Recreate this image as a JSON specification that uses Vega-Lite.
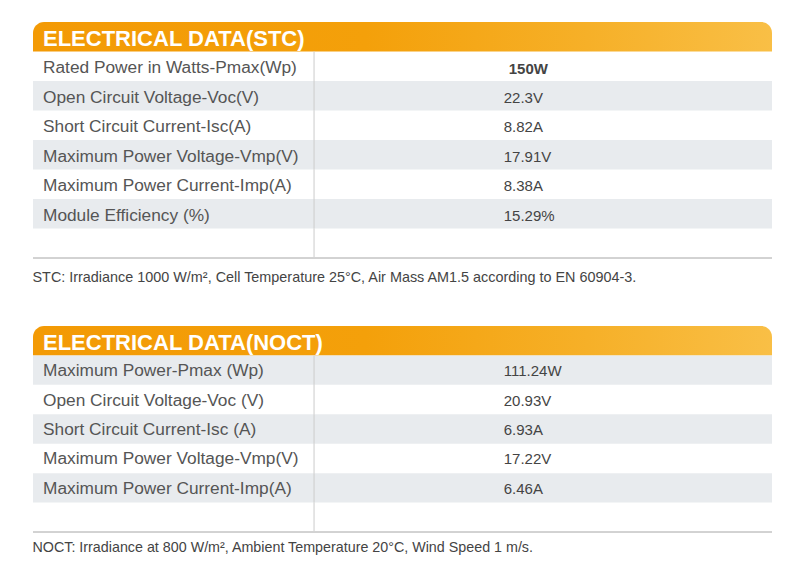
{
  "$schema": "https://vega.github.io/schema/vega-lite/v6.json",
  "background": "white",
  "padding": {"left": 32, "top": 22, "right": 29, "bottom": 0},
  "config": {"view": {"stroke": null}, "font": "Liberation Sans"},
  "datasets": {
    "stc": [
      {"row": 0, "label": "ELECTRICAL DATA(STC)", "value": ""},
      {"row": 1, "label": "Rated Power in Watts-Pmax(Wp)", "value": "150W"},
      {"row": 2, "label": "Open Circuit Voltage-Voc(V)", "value": "22.3V"},
      {"row": 3, "label": "Short Circuit Current-Isc(A)", "value": "8.82A"},
      {"row": 4, "label": "Maximum Power Voltage-Vmp(V)", "value": "17.91V"},
      {"row": 5, "label": "Maximum Power Current-Imp(A)", "value": "8.38A"},
      {"row": 6, "label": "Module Efficiency (%)", "value": "15.29%"},
      {"row": 7, "label": "", "value": ""}
    ],
    "noct": [
      {"row": 0, "label": "ELECTRICAL DATA(NOCT)", "value": ""},
      {"row": 1, "label": "Maximum Power-Pmax (Wp)", "value": "111.24W"},
      {"row": 2, "label": "Open Circuit Voltage-Voc (V)", "value": "20.93V"},
      {"row": 3, "label": "Short Circuit Current-Isc (A)", "value": "6.93A"},
      {"row": 4, "label": "Maximum Power Voltage-Vmp(V)", "value": "17.22V"},
      {"row": 5, "label": "Maximum Power Current-Imp(A)", "value": "6.46A"},
      {"row": 6, "label": "", "value": ""}
    ]
  },
  "spacing": 42,
  "vconcat": [
    {
      "width": 739,
      "height": 236,
      "data": {"name": "stc"},
      "title": {"text": "STC: Irradiance 1000 W/m², Cell Temperature 25°C, Air Mass AM1.5 according to EN 60904-3.", "orient": "bottom", "anchor": "start", "fontSize": 14.4, "font": "Liberation Sans", "fontWeight": "normal", "color": "#444444", "offset": 12},
      "encoding": {
        "y": {"field": "row", "type": "ordinal", "axis": null, "scale": {"domain": [0, 1, 2, 3, 4, 5, 6, 7], "paddingInner": 0, "paddingOuter": 0}}
      },
      "layer": [
        {
          "transform": [{"filter": "datum.row == 0"}],
          "mark": {"type": "rect", "cornerRadiusTopLeft": 11, "cornerRadiusTopRight": 11, "color": {"gradient": "linear", "stops": [{"offset": 0, "color": "#F39A05"}, {"offset": 0.45, "color": "#F4A00A"}, {"offset": 0.75, "color": "#F6B028"}, {"offset": 1, "color": "#F9BF46"}]}},
          "encoding": {"x": {"datum": 0, "type": "quantitative", "scale": {"domain": [0, 1]}, "axis": null}, "x2": {"datum": 1}}
        },
        {
          "transform": [{"filter": "datum.row > 0 && datum.row % 2 == 0"}],
          "mark": {"type": "rect", "color": "#E8EBEE"},
          "encoding": {"x": {"datum": 0, "type": "quantitative"}, "x2": {"datum": 1}}
        },
        {
          "transform": [{"filter": "datum.row > 0"}],
          "mark": {"type": "rect", "color": "#CDCDCD"},
          "encoding": {"x": {"datum": 0.3796, "type": "quantitative"}, "x2": {"datum": 0.381}}
        },
        {
          "mark": {"type": "rule", "color": "#D2D2D2", "strokeWidth": 1},
          "encoding": {"x": {"datum": 0, "type": "quantitative"}, "x2": {"datum": 1}, "y": {"datum": 7, "type": "ordinal", "bandPosition": 1}}
        },
        {
          "transform": [{"filter": "datum.row == 0"}],
          "mark": {"type": "text", "align": "left", "baseline": "middle", "dx": 10, "dy": 2, "fontSize": 22, "fontWeight": "bold", "color": "white", "font": "Liberation Sans"},
          "encoding": {"x": {"datum": 0, "type": "quantitative"}, "text": {"field": "label"}}
        },
        {
          "transform": [{"filter": "datum.row > 0"}],
          "mark": {"type": "text", "align": "left", "baseline": "middle", "dx": 10, "dy": 2, "fontSize": 17.3, "color": "#555555", "font": "Liberation Sans"},
          "encoding": {"x": {"datum": 0, "type": "quantitative"}, "text": {"field": "label"}}
        },
        {
          "transform": [{"filter": "datum.row > 1"}],
          "mark": {"type": "text", "align": "left", "baseline": "middle", "dy": 2, "fontSize": 15, "color": "#444444", "font": "Liberation Sans"},
          "encoding": {"x": {"datum": 0.637, "type": "quantitative"}, "text": {"field": "value"}}
        },
        {
          "transform": [{"filter": "datum.row == 1"}],
          "mark": {"type": "text", "align": "left", "baseline": "middle", "dy": 3, "dx": 5, "fontSize": 15, "fontWeight": "bold", "color": "#444444", "font": "Liberation Sans"},
          "encoding": {"x": {"datum": 0.637, "type": "quantitative"}, "text": {"field": "value"}}
        }
      ]
    },
    {
      "width": 739,
      "height": 206,
      "data": {"name": "noct"},
      "title": {"text": "NOCT: Irradiance at 800 W/m², Ambient Temperature 20°C, Wind Speed 1 m/s.", "orient": "bottom", "anchor": "start", "fontSize": 14.3, "font": "Liberation Sans", "fontWeight": "normal", "color": "#444444", "offset": 8},
      "encoding": {
        "y": {"field": "row", "type": "ordinal", "axis": null, "scale": {"domain": [0, 1, 2, 3, 4, 5, 6], "paddingInner": 0, "paddingOuter": 0}}
      },
      "layer": [
        {
          "transform": [{"filter": "datum.row == 0"}],
          "mark": {"type": "rect", "cornerRadiusTopLeft": 11, "cornerRadiusTopRight": 11, "color": {"gradient": "linear", "stops": [{"offset": 0, "color": "#F39A05"}, {"offset": 0.45, "color": "#F4A00A"}, {"offset": 0.75, "color": "#F6B028"}, {"offset": 1, "color": "#F9BF46"}]}},
          "encoding": {"x": {"datum": 0, "type": "quantitative", "scale": {"domain": [0, 1]}, "axis": null}, "x2": {"datum": 1}}
        },
        {
          "transform": [{"filter": "datum.row % 2 == 1"}],
          "mark": {"type": "rect", "color": "#E8EBEE"},
          "encoding": {"x": {"datum": 0, "type": "quantitative"}, "x2": {"datum": 1}}
        },
        {
          "transform": [{"filter": "datum.row > 0"}],
          "mark": {"type": "rect", "color": "#CDCDCD"},
          "encoding": {"x": {"datum": 0.3796, "type": "quantitative"}, "x2": {"datum": 0.381}}
        },
        {
          "mark": {"type": "rule", "color": "#D2D2D2", "strokeWidth": 1},
          "encoding": {"x": {"datum": 0, "type": "quantitative"}, "x2": {"datum": 1}, "y": {"datum": 6, "type": "ordinal", "bandPosition": 1}}
        },
        {
          "transform": [{"filter": "datum.row == 0"}],
          "mark": {"type": "text", "align": "left", "baseline": "middle", "dx": 10, "dy": 2, "fontSize": 22, "fontWeight": "bold", "color": "white", "font": "Liberation Sans"},
          "encoding": {"x": {"datum": 0, "type": "quantitative"}, "text": {"field": "label"}}
        },
        {
          "transform": [{"filter": "datum.row > 0"}],
          "mark": {"type": "text", "align": "left", "baseline": "middle", "dx": 10, "dy": 1, "fontSize": 17.3, "color": "#555555", "font": "Liberation Sans"},
          "encoding": {"x": {"datum": 0, "type": "quantitative"}, "text": {"field": "label"}}
        },
        {
          "transform": [{"filter": "datum.row > 0"}],
          "mark": {"type": "text", "align": "left", "baseline": "middle", "dy": 1, "fontSize": 15, "color": "#444444", "font": "Liberation Sans"},
          "encoding": {"x": {"datum": 0.637, "type": "quantitative"}, "text": {"field": "value"}}
        }
      ]
    }
  ]
}
